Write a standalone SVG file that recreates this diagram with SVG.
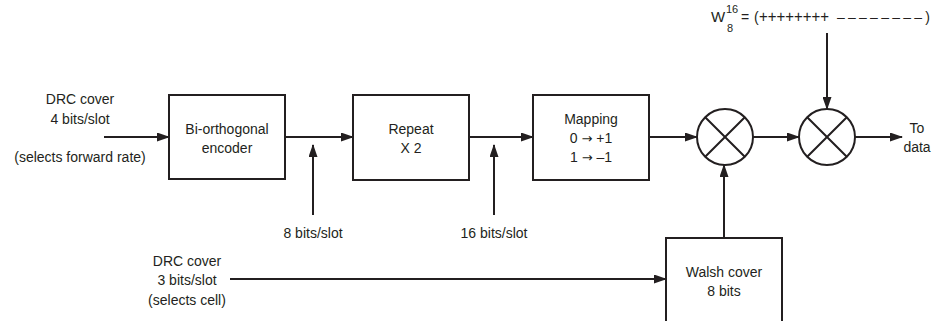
<svg xmlns="http://www.w3.org/2000/svg" width="937" height="321" viewBox="0 0 937 321">
<defs>
<marker id="ah" markerUnits="userSpaceOnUse" markerWidth="13" markerHeight="9" refX="12" refY="4.5" orient="auto">
<path d="M0,0 L13,4.5 L0,9 z" fill="#231f20"/>
</marker>
<style>
text{font-family:"Liberation Sans",Arial,sans-serif;font-size:14px;fill:#231f20;text-anchor:middle}
.box{fill:#fff;stroke:#231f20;stroke-width:2}
.ln{fill:none;stroke:#231f20;stroke-width:2}
.arr{fill:none;stroke:#231f20;stroke-width:2;marker-end:url(#ah)}
.st{text-anchor:start}
.sm{font-size:11px}
.ar{font-family:"DejaVu Sans",sans-serif;font-size:13px}
</style>
</defs>
<rect width="937" height="321" fill="#fff"/>
<g id="connectors">
<path class="arr" d="M104,137 H169"/>
<path class="arr" d="M285,137 H353"/>
<path class="arr" d="M313,215 V145"/>
<path class="arr" d="M469,137 H533"/>
<path class="arr" d="M494,215 V145"/>
<path class="arr" d="M649,137 H697"/>
<path class="arr" d="M753,137 H799"/>
<path class="arr" d="M855,137 H902"/>
<path class="arr" d="M827,33 V109"/>
<path class="arr" d="M724,238 V165"/>
<path class="arr" d="M230,279 H666"/>
</g>
<g id="input-drc4">
<text x="80" y="104">DRC cover</text>
<text x="80" y="124">4 bits/slot</text>
<text x="80" y="162">(selects forward rate)</text>
</g>
<g id="encoder">
<rect class="box" x="169" y="95" width="116" height="84"/>
<text x="227" y="134">Bi-orthogonal</text>
<text x="227" y="153">encoder</text>
</g>
<g id="label-8bits"><text x="313" y="238">8 bits/slot</text></g>
<g id="repeat">
<rect class="box" x="353" y="95" width="116" height="85"/>
<text x="411" y="134">Repeat</text>
<text x="411" y="153">X 2</text>
</g>
<g id="label-16bits"><text x="494" y="238">16 bits/slot</text></g>
<g id="mapping">
<rect class="box" x="533" y="95" width="116" height="85"/>
<text x="591" y="124">Mapping</text>
<text x="591" y="143">0 <tspan class="ar">→</tspan> +1</text>
<text x="591" y="162">1 <tspan class="ar">→</tspan> –1</text>
</g>
<g id="mult1">
<circle class="box" cx="725" cy="137" r="28"/>
<path class="ln" d="M705.2,117.2 L744.8,156.8 M744.8,117.2 L705.2,156.8"/>
</g>
<g id="mult2">
<circle class="box" cx="827" cy="137" r="28"/>
<path class="ln" d="M807.2,117.2 L846.8,156.8 M846.8,117.2 L807.2,156.8"/>
</g>
<g id="walsh-seq">
<text class="st" x="711" y="22" style="font-size:15px">W</text>
<text class="st sm" x="726" y="13">16</text>
<text class="st sm" x="727" y="32">8</text>
<text class="st" x="741" y="22">=</text>
<text class="st" x="754" y="22">(</text>
<text class="st" x="759" y="22" style="font-size:16px" textLength="70" lengthAdjust="spacingAndGlyphs">++++++++</text>
<text class="st" x="837" y="22" textLength="93" lengthAdjust="spacing">––––––––)</text>
</g>
<g id="output">
<text x="917" y="133">To</text>
<text x="917" y="152">data</text>
</g>
<g id="input-drc3">
<text x="187" y="266">DRC cover</text>
<text x="187" y="285">3 bits/slot</text>
<text x="187" y="305">(selects cell)</text>
</g>
<g id="walsh-cover">
<rect class="box" x="666" y="238" width="116" height="100"/>
<text x="724" y="277">Walsh cover</text>
<text x="724" y="296">8 bits</text>
</g>
</svg>
